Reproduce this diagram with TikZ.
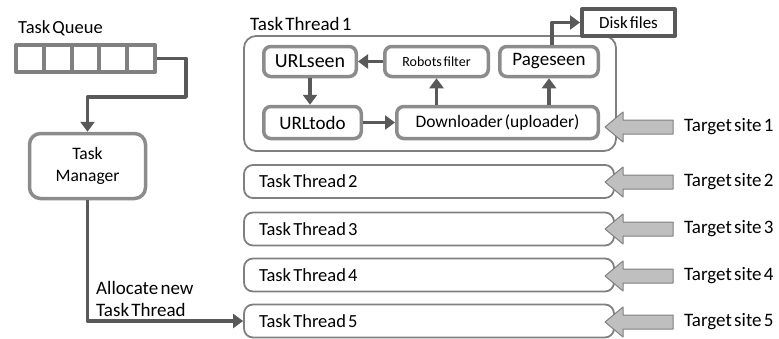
\documentclass[tikz,border=0pt]{standalone}
\usepackage{fontspec}
\setmainfont{Carlito}
\usetikzlibrary{arrows.meta}

\definecolor{boxgray}{HTML}{8C8C8C}
\definecolor{linegray}{HTML}{808080}
\definecolor{arrowgray}{HTML}{595959}
\definecolor{fillgray}{HTML}{BFBFBF}

% font size with narrow word spaces
\newcommand{\fsz}[1]{\fontsize{#1}{22}\selectfont}

\begin{document}
\begin{tikzpicture}[x=1pt, y=-1pt, line join=round,
    font=\fsz{18.5},
    execute at begin node={\spaceskip=0.12em plus 0.04em\relax},
    cell/.style={draw=linegray, line width=4pt, fill=white, inner sep=0pt,
                 minimum width=27.8pt, minimum height=27pt},
    inbox/.style={draw=boxgray, line width=3.5pt, rounded corners=7pt,
                  inner sep=0pt, minimum height=30pt},
    threadbox/.style={draw=linegray, line width=1.8pt, rounded corners=9pt,
                      minimum height=33pt, text width=340pt, inner xsep=15pt,
                      align=left},
    conn/.style={draw=arrowgray, line width=3.5pt,
                 -{Triangle[length=10pt, width=14pt]}},
    bigarrow/.style={draw=linegray, line width=1pt, fill=fillgray},
    plain/.style={inner sep=0pt, anchor=west}]
  \useasboundingbox (0,0) rectangle (779,338);

  % ---- Task queue and manager ----
  \node[plain] (qlabel) at (18,28) {Task Queue};
  \foreach \i in {0,...,4}
    \node[cell] (q\i) at (29.9+27.8*\i, 58.5) {};
  \node[draw=boxgray, line width=3.5pt, rounded corners=11pt, align=center,
        minimum width=116pt, minimum height=65pt, font=\fsz{17.5}] (mgr)
        at (87.5,166) {Task\\Manager};
  \coordinate (qturn) at (186,97);
  \draw[conn] (q4.east) -| (qturn) -| (mgr.north);

  % ---- Task Thread 1 (detailed) ----
  \node[plain, font=\fsz{19}] (tt1label) at (250,24) {Task Thread 1};
  \node[draw=linegray, line width=1.8pt, rounded corners=12pt,
        minimum width=372pt, minimum height=115pt] (tt1) at (430,93.5) {};
  \node[inbox, minimum width=92.5pt, font=\fsz{20}]
        (urlseen)  at (310,61.5)   {URLseen};
  \node[inbox, minimum width=103.5pt, font=\fsz{14}]
        (robots)   at (436.5,61.5) {Robots filter};
  \node[inbox, minimum width=98.5pt, font=\fsz{19}]
        (pageseen) at (549,61.5)   {Pageseen};
  \node[inbox, minimum width=97.5pt, minimum height=32pt, font=\fsz{19}]
        (urltodo)  at (312.5,122.5) {URLtodo};
  \node[inbox, minimum width=201.5pt, minimum height=32pt, font=\fsz{17.5}]
        (download) at (497.5,122.5) {Downloader (uploader)};
  \node[draw=arrowgray, line width=4pt, minimum width=93pt, minimum height=27pt,
        font=\fsz{17}] (disk) at (628.5,22.5) {Disk files};

  \draw[conn] (robots.west) -- (urlseen.east);
  \draw[conn] (urlseen.south) -- (urlseen.south |- urltodo.north);
  \draw[conn] (urltodo.east) -- (download.west);
  \draw[conn] (robots.south |- download.north) -- (robots.south);
  \draw[conn] (pageseen.south |- download.north) -- (pageseen.south);
  \draw[conn] ([xshift=3pt]pageseen.north) |- (disk.west);

  % ---- Other task threads ----
  \node[threadbox] (tt2) at (429,181.5) {Task Thread 2};
  \node[threadbox] (tt3) at (429,229)   {Task Thread 3};
  \node[threadbox] (tt4) at (429,275)   {Task Thread 4};
  \node[threadbox] (tt5) at (429,321)   {Task Thread 5};

  \node[plain, align=left, font=\fsz{19}] (alloc) at (96,299)
        {Allocate new\\Task Thread};
  \draw[conn] (mgr.south) |- (tt5.west);

  % ---- Target sites ----
  \foreach \i/\y in {1/127, 2/182, 3/229, 4/276, 5/322} {
    \node[plain, font=\fsz{19}] (site\i) at (684,\y) {Target site \i};
    \coordinate (tail\i) at ([xshift=-11pt]site\i.west);
    \draw[bigarrow] (tail\i) -- ++(0,-7) -- ++(-50,0) -- ++(0,-8)
      -- ++(-18,15) -- ++(18,15) -- ++(0,-8) -- ++(50,0) -- cycle;
  }
\end{tikzpicture}
\end{document}
